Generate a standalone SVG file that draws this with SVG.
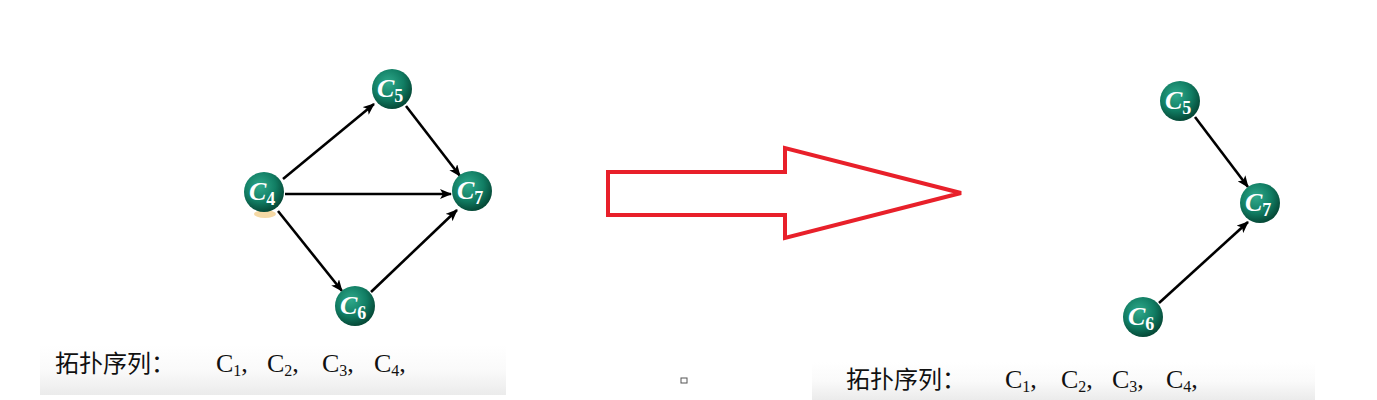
<svg xmlns="http://www.w3.org/2000/svg" width="1377" height="400" viewBox="0 0 1377 400">
<style>
.edge{stroke:#000;stroke-width:2.6;fill:none;marker-end:url(#ah)}
.ball{fill:url(#g)}
.lbl{font-family:"Liberation Serif","DejaVu Serif",serif;font-style:italic;font-weight:bold;fill:#fff;font-size:26px}
.sub{font-size:18px;font-style:normal;font-weight:bold}
.seq{font-family:"Liberation Serif","Noto Sans CJK SC",serif;font-size:26px;fill:#111}
.cjk{font-family:"Noto Sans CJK SC",sans-serif;font-size:24px;fill:#111}
.seqs{font-size:16px}
</style>
<defs>
<radialGradient id="g" cx="0.4" cy="0.35" r="0.65">
<stop offset="0" stop-color="#2fa98b"/>
<stop offset="0.6" stop-color="#117d63"/>
<stop offset="1" stop-color="#064a38"/>
</radialGradient>
<linearGradient id="band" x1="0" y1="0" x2="0" y2="1">
<stop offset="0" stop-color="#fff"/>
<stop offset="0.5" stop-color="#fafafa"/>
<stop offset="1" stop-color="#ebebeb"/>
</linearGradient>
<marker id="ah" viewBox="0 0 12 10" refX="11" refY="5" markerWidth="12" markerHeight="10" markerUnits="userSpaceOnUse" orient="auto">
<path d="M0,0 L12,5 L0,10 L3,5 Z" fill="#000"/>
</marker>
</defs>
<rect x="40" y="345" width="466" height="50" fill="url(#band)"/>
<rect x="812" y="362" width="503" height="38" fill="url(#band)"/>
<g id="connectors">
<line class="edge" x1="283" y1="179" x2="374" y2="104"/>
<line class="edge" x1="406" y1="106" x2="460" y2="176"/>
<line class="edge" x1="285" y1="194" x2="451" y2="194"/>
<line class="edge" x1="278" y1="211" x2="342" y2="291"/>
<line class="edge" x1="371" y1="292" x2="457" y2="210"/>
<line class="edge" x1="1195" y1="117" x2="1248" y2="187"/>
<line class="edge" x1="1159" y1="303" x2="1248" y2="222"/>
</g>
<ellipse cx="265" cy="214" rx="11" ry="4" fill="#f3cf8f" opacity="0.8"/>
<g id="n-c4"><circle class="ball" cx="264" cy="192" r="20"/><text class="lbl" x="249" y="200">C<tspan class="sub" dy="5">4</tspan></text></g>
<g id="n-c5"><circle class="ball" cx="392" cy="89" r="20"/><text class="lbl" x="377" y="97">C<tspan class="sub" dy="5">5</tspan></text></g>
<g id="n-c7"><circle class="ball" cx="472" cy="191" r="20"/><text class="lbl" x="457" y="199">C<tspan class="sub" dy="5">7</tspan></text></g>
<g id="n-c6"><circle class="ball" cx="355" cy="306" r="20"/><text class="lbl" x="340" y="314">C<tspan class="sub" dy="5">6</tspan></text></g>
<g id="arrow"><polygon points="608,172 785,172 785,148 961,193 785,238 785,215 608,215" fill="none" stroke="#e8202a" stroke-width="4"/></g>
<g id="r-c5"><circle class="ball" cx="1180" cy="101" r="20"/><text class="lbl" x="1165" y="109">C<tspan class="sub" dy="5">5</tspan></text></g>
<g id="r-c7"><circle class="ball" cx="1260" cy="203" r="20"/><text class="lbl" x="1245" y="211">C<tspan class="sub" dy="5">7</tspan></text></g>
<g id="r-c6"><circle class="ball" cx="1143" cy="317" r="20"/><text class="lbl" x="1128" y="325">C<tspan class="sub" dy="5">6</tspan></text></g>
<rect x="681" y="378" width="6" height="5" fill="none" stroke="#555" stroke-width="1"/>
<g id="seq-left">
<text class="cjk" x="55" y="372">拓扑序列：</text>
<text class="seq" x="216" y="372">C<tspan class="seqs" dy="4">1</tspan><tspan dy="-4">,</tspan></text>
<text class="seq" x="267" y="372">C<tspan class="seqs" dy="4">2</tspan><tspan dy="-4">,</tspan></text>
<text class="seq" x="322" y="372">C<tspan class="seqs" dy="4">3</tspan><tspan dy="-4">,</tspan></text>
<text class="seq" x="374" y="372">C<tspan class="seqs" dy="4">4</tspan><tspan dy="-4">,</tspan></text>
</g>
<g id="seq-right">
<text class="cjk" x="846" y="388">拓扑序列：</text>
<text class="seq" x="1005" y="388">C<tspan class="seqs" dy="4">1</tspan><tspan dy="-4">,</tspan></text>
<text class="seq" x="1061" y="388">C<tspan class="seqs" dy="4">2</tspan><tspan dy="-4">,</tspan></text>
<text class="seq" x="1112" y="388">C<tspan class="seqs" dy="4">3</tspan><tspan dy="-4">,</tspan></text>
<text class="seq" x="1166" y="388">C<tspan class="seqs" dy="4">4</tspan><tspan dy="-4">,</tspan></text>
</g>
</svg>
